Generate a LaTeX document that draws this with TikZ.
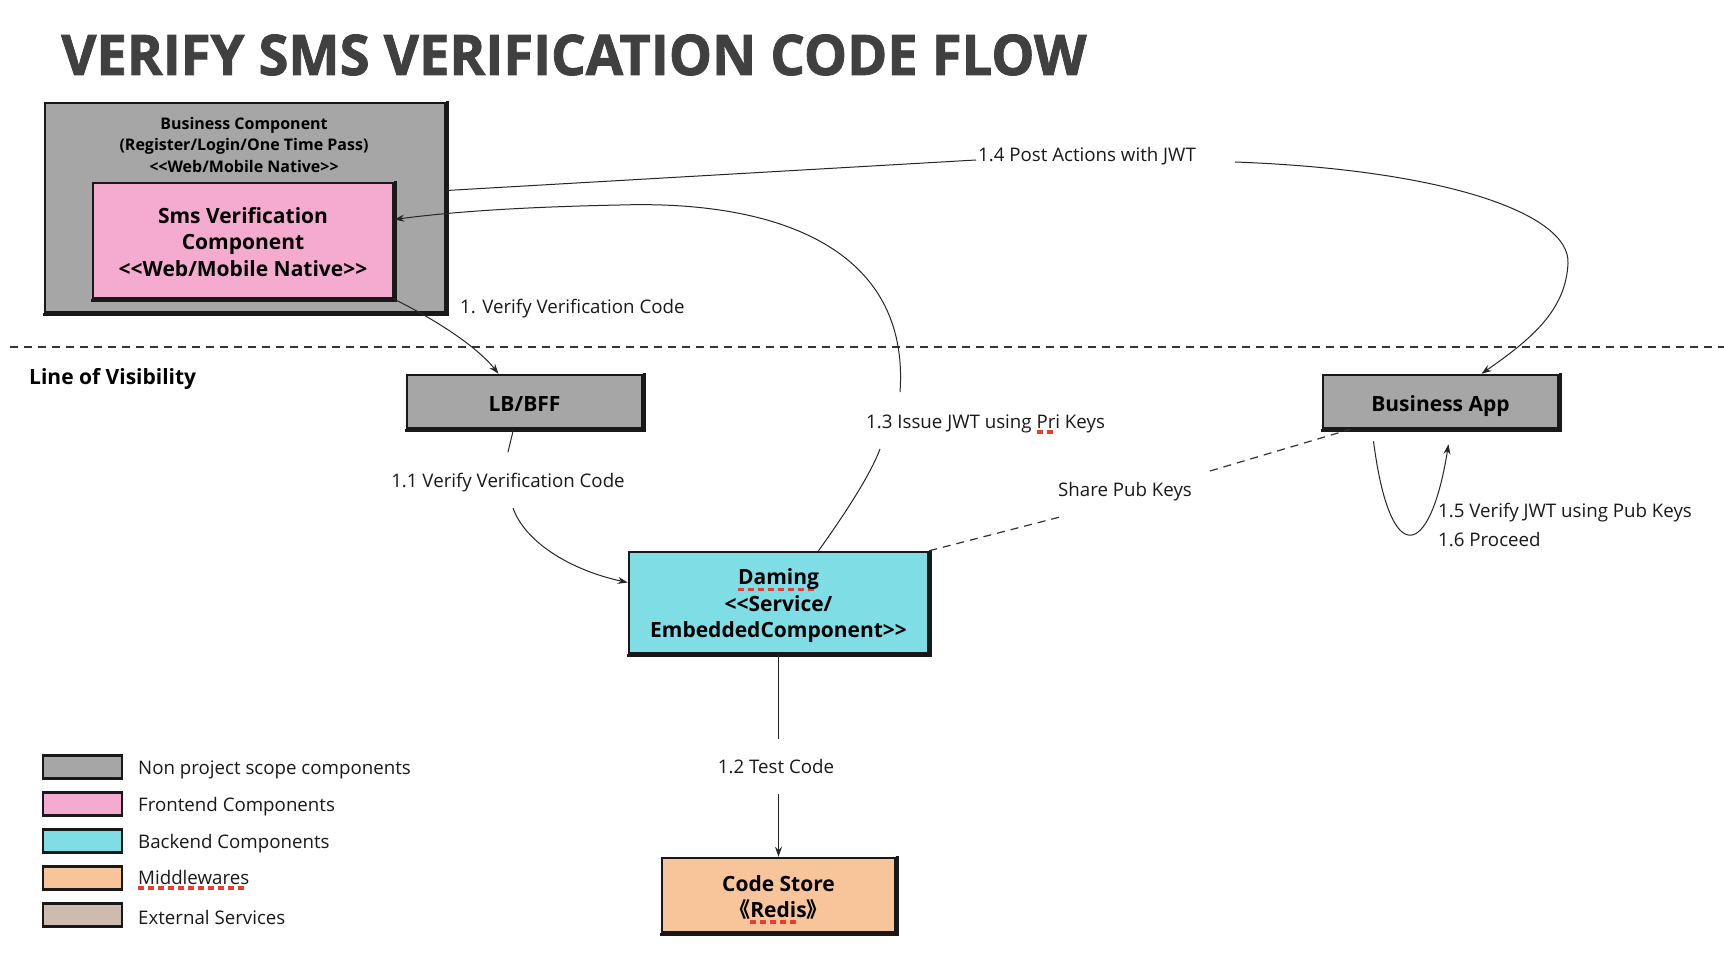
\documentclass[tikz,border=0pt]{standalone}
\usepackage{fontspec}
\setmainfont{Open Sans}
\newfontfamily\cjk{Noto Sans CJK SC}
\newfontfamily\titlefont{Open Sans}[BoldFeatures={FakeBold=1.5}]
\usetikzlibrary{arrows.meta}
\definecolor{titlegray}{HTML}{404040}
\definecolor{boxgray}{HTML}{A6A6A6}
\definecolor{pinkc}{RGB}{245,170,207}
\definecolor{cyanc}{RGB}{126,221,229}
\definecolor{orangec}{RGB}{248,196,154}
\definecolor{tanc}{RGB}{205,187,176}
\definecolor{spellred}{RGB}{235,60,50}
\newlength\spw
\newcommand\spellmark[1]{\settowidth\spw{#1}\leavevmode\rlap{\raisebox{-0.3em}{\color{spellred}\leaders\hbox{\rule{6pt}{3.5pt}\hspace{4pt}}\hskip\spw}}#1}
\newcommand\roughedge[1]{\draw[line width=2.5pt,black!90] ([xshift=1pt,yshift=0.5pt]#1.north east) -- ([xshift=1pt,yshift=-1pt]#1.south east) -- ([xshift=-0.5pt,yshift=-1pt]#1.south west);}
\tikzset{
  box/.style={draw=black!90, line width=2.5pt, align=center, inner sep=0pt,
    font=\fontsize{21}{26.5}\selectfont\bfseries},
  onebox/.style={box, text height=24pt, text depth=5pt},
  boxtxt/.style={align=center, inner sep=0pt, font=\fontsize{21}{26.5}\selectfont\bfseries},
  swatch/.style={draw=black!90, line width=2.8pt, inner sep=0pt, minimum width=79pt, minimum height=23pt},
  lbl/.style={font=\fontsize{18.7}{27}\selectfont, inner sep=0pt, text=black!90},
  conn/.style={line width=1pt, draw=black!85},
  arr/.style={conn, -{Stealth[length=10pt,width=7pt]}},
  dsh/.style={line width=1.2pt, draw=black!80, dash pattern=on 8pt off 6pt},
}
\begin{document}
\begin{tikzpicture}[x=1pt,y=-1pt]
\useasboundingbox[fill=white] (0,0) rectangle (1724,960);
% title
\node[anchor=base west, text=titlegray, inner sep=0pt, font=\titlefont\fontsize{56}{60}\selectfont\bfseries] (title) at (61,75) {\scalebox{0.97}[1]{VERIFY SMS VERIFICATION CODE FLOW}};
% line of visibility
\coordinate (lvA) at (10,347);
\coordinate (lvB) at (1724,347);
\draw[dsh] (lvA) -- (lvB);
\node[anchor=west, inner sep=0pt, font=\fontsize{21}{26}\selectfont\bfseries] (lov) at (29,379) {Line of Visibility};
% boxes
\node[box, fill=boxgray, minimum width=400pt, minimum height=209pt] (biz) at (245,207.5) {};
\roughedge{biz}
\node[align=center, inner sep=0pt, font=\fontsize{16}{21.5}\selectfont\bfseries] (biztxt) at (244,145) {Business Component\\(Register/Login/One Time Pass)\\{<}{<}Web/Mobile Native{>}{>}};
\node[box, fill=pinkc, minimum width=300pt, minimum height=115pt] (sms) at (243,240.5) {};
\roughedge{sms}
\node[boxtxt] (smstxt) at (243,242) {Sms Verification\\Component\\{<}{<}Web/Mobile Native{>}{>}};
\node[onebox, fill=boxgray, minimum width=235pt, minimum height=53pt] (lb) at (524.5,401.5) {LB/BFF};
\roughedge{lb}
\node[onebox, fill=boxgray, minimum width=235pt, minimum height=53pt] (bizapp) at (1440.5,401.5) {Business App};
\roughedge{bizapp}
\node[box, fill=cyanc, minimum width=299pt, minimum height=101pt] (daming) at (778.5,602.5) {};
\roughedge{daming}
\node[boxtxt] (damingtxt) at (778.5,606) {\spellmark{Daming}\\{<}{<}Service/\\EmbeddedComponent{>}{>}};
\node[box, fill=orangec, minimum width=233pt, minimum height=74pt] (store) at (778.5,895) {};
\roughedge{store}
\node[boxtxt] (storetxt) at (778.5,899.5) {Code Store\\{\cjk 《}\spellmark{Redis}{\cjk 》}};
% legend
\node[swatch, fill=boxgray] (lg1) at (82.5,767) {};
\node[swatch, fill=pinkc] (lg2) at (82.5,804) {};
\node[swatch, fill=cyanc] (lg3) at (82.5,841) {};
\node[swatch, fill=orangec] (lg4) at (82.5,878) {};
\node[swatch, fill=tanc] (lg5) at (82.5,915) {};
\node[lbl, anchor=west] (lt1) at (138,769.5) {Non project scope components};
\node[lbl, anchor=west] (lt2) at (138,806.5) {Frontend Components};
\node[lbl, anchor=west] (lt3) at (138,843.5) {Backend Components};
\node[lbl, anchor=west] (lt4) at (138,880) {\spellmark{Middlewares}};
\node[lbl, anchor=west] (lt5) at (138,917) {External Services};
% 1. verify
\draw[arr] (sms.south east) .. controls (440,322) and (478,348) .. ([xshift=-26pt]lb.north);
\node[lbl, anchor=west] (l1) at (460,309) {1. Verify Verification Code};
% 1.1
\coordinate (a11) at (508,452);
\coordinate (b11) at (513,508);
\draw[conn] ([xshift=-11pt]lb.south) -- (a11);
\node[lbl] (l11) at (508,483) {1.1 Verify Verification Code};
\draw[arr] (b11) .. controls (525,542) and (570,570) .. ([yshift=20pt]daming.west);
% 1.2
\coordinate (a12) at (778.5,739);
\coordinate (b12) at (778.5,794);
\draw[conn] (daming.south) -- (a12);
\node[lbl] (l12) at (776,767) {1.2 Test Code};
\draw[arr] (b12) -- (store.north);
% 1.3
\coordinate (a13) at (880,449);
\coordinate (b13) at (900,392);
\draw[conn] ([xshift=40pt]daming.north) .. controls (842,518) and (870,476) .. (a13);
\node[lbl, anchor=west] (l13) at (866,424) {1.3 Issue JWT using \spellmark{Pri} Keys};
\draw[arr] (b13) .. controls (910,250) and (780,200) .. (620,205) .. controls (520,207) and (450,212) .. ([yshift=21pt]sms.east);
% 1.4
\coordinate (a14) at (976,160);
\coordinate (b14) at (1235,162);
\draw[conn] ([yshift=17pt]biz.east) -- (a14);
\node[lbl, anchor=west] (l14) at (978,156) {1.4 Post Actions with JWT};
\draw[arr] (b14) .. controls (1450,170) and (1570,215) .. (1568,263) .. controls (1566,311) and (1530,340) .. ([xshift=41pt]bizapp.north);
% share pub keys
\coordinate (aspk) at (1060,517);
\coordinate (bspk) at (1210,471);
\draw[dsh] (daming.north east) -- (aspk);
\node[lbl] (lspk) at (1125,492) {Share Pub Keys};
\draw[dsh] (bspk) -- ([xshift=-90pt]bizapp.south);
% self loop
\draw[arr] ([xshift=-67pt,yshift=-12pt]bizapp.south) .. controls (1390,570) and (1430,560) .. ([xshift=8pt,yshift=-15pt]bizapp.south);
\node[lbl, anchor=west] (l15) at (1438,513) {1.5 Verify JWT using Pub Keys};
\node[lbl, anchor=west] (l16) at (1438,540) {1.6 Proceed};
\end{tikzpicture}
\end{document}
